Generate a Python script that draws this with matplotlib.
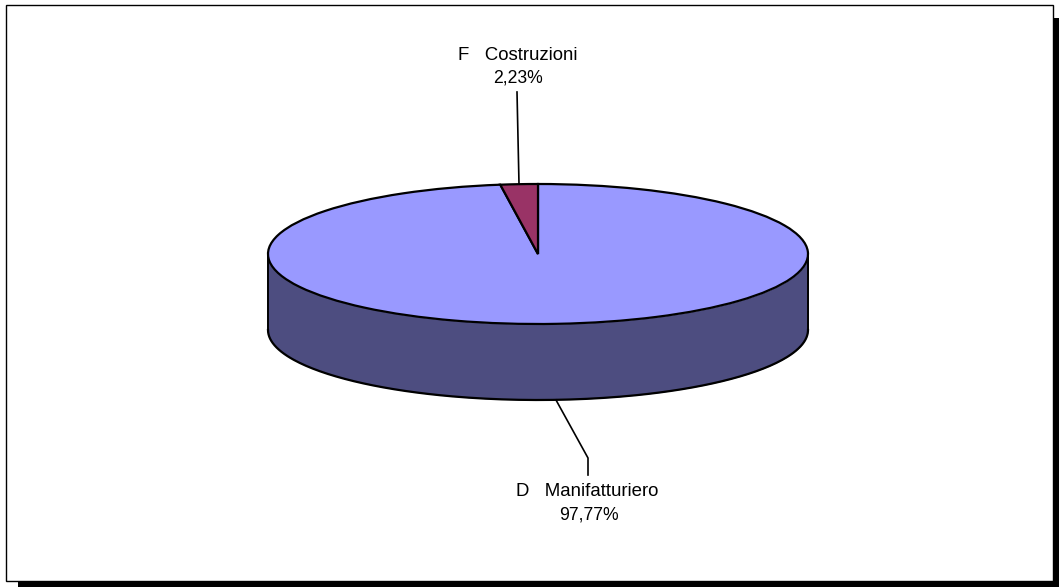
import numpy as np
import matplotlib
matplotlib.use('Agg')
import matplotlib.pyplot as plt
from matplotlib.patches import Rectangle

labels = ['D   Manifatturiero', 'F   Costruzioni']
values = [97.77, 2.23]
value_text = ['97,77%', '2,23%']
colors = ['#9999FF', '#993366']
side_color = '#4D4D80'

W, H = 1059, 587
cx, cy, rx, ry, depth = 538, 254, 270, 70, 76

plt.rcParams['font.family'] = ['Liberation Sans', 'DejaVu Sans']
fig = plt.figure(figsize=(W / 100, H / 100), dpi=100)
fig.patch.set_facecolor('white')

# frame and shadow, in pixels
bg = fig.add_axes([0, 0, 1, 1])
bg.set_xlim(0, W)
bg.set_ylim(H, 0)
bg.axis('off')
bg.add_patch(Rectangle((18, 18), W - 18, H - 18, fc='black', ec='none'))
bg.add_patch(Rectangle((5.5, 4.5), 1047.5, 576.5, fc='white', ec='black', lw=1.0))

# pie axes: unit circle squashed to the ellipse
ax = fig.add_axes([(cx - rx) / W, 1 - (cy + ry) / H, 2 * rx / W, 2 * ry / H])
ax.patch.set_alpha(0)

# wall below the front half of the rim
t = np.linspace(np.pi, 2 * np.pi, 200)
d = depth / ry
ax.fill_between(np.cos(t), np.sin(t), np.sin(t) - d, color=side_color, lw=0, clip_on=False)
ax.plot(np.cos(t), np.sin(t) - d, color='black', lw=1.6, clip_on=False)
ax.plot([-1, -1], [0, -d], color='black', lw=1.4, clip_on=False)
ax.plot([1, 1], [0, -d], color='black', lw=1.4, clip_on=False)

# second slice ends at twelve o'clock
wedges, _ = ax.pie(values, colors=colors, startangle=90 + values[1] / 100 * 360, radius=1,
                   wedgeprops={'edgecolor': 'black', 'linewidth': 1.6, 'clip_on': False})
ax.set_xlim(-1, 1)
ax.set_ylim(-1, 1)
ax.set_aspect('auto')

# leader lines and labels, in pixels
top = fig.add_axes([0, 0, 1, 1])
top.set_xlim(0, W)
top.set_ylim(H, 0)
top.axis('off')
top.plot([517, 519], [92, 184], color='black', lw=1.2)
top.plot([556, 588, 588], [400, 458, 475], color='black', lw=1.2)
top.text(518, 56, labels[1], ha='center', va='center', fontsize=13.4)
top.text(518, 78, value_text[1], ha='center', va='center', fontsize=12.7)
top.text(587.5, 492, labels[0], ha='center', va='center', fontsize=13.4)
top.text(589, 514.5, value_text[0], ha='center', va='center', fontsize=12.7)

fig.savefig('out.png', dpi=100)
